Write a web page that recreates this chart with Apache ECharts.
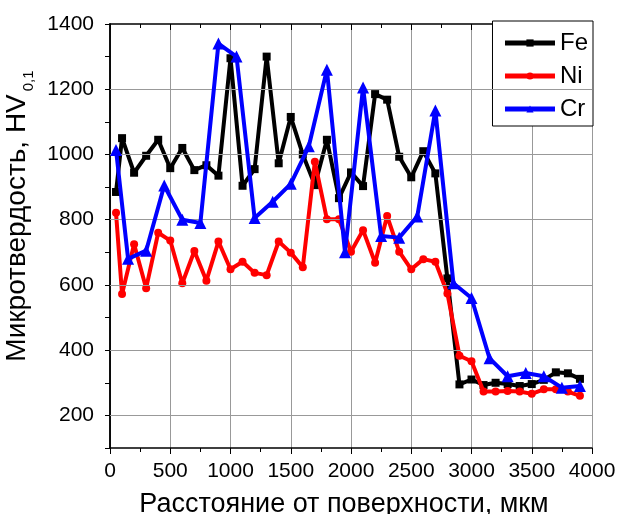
<!DOCTYPE html>
<html>
<head>
<meta charset="utf-8">
<script src="https://cdn.jsdelivr.net/npm/echarts@6/dist/echarts.min.js"></script>
<style>
  html, body { margin: 0; padding: 0; background: #fff; }
  #chart { width: 620px; height: 514px; }
</style>
</head>
<body>
<div id="chart"></div>
<script>
  // расстояние от поверхности, мкм
  var feX = [50, 100, 200, 300, 400, 500, 600, 700, 800, 900, 1000, 1100, 1200, 1300, 1400, 1500, 1600, 1700, 1800, 1900,
             2000, 2100, 2200, 2300, 2400, 2500, 2600, 2700, 2800, 2900, 3000, 3100, 3200, 3300, 3400, 3500, 3600, 3700, 3800, 3900];
  var feY = [885, 1050, 944, 996, 1045, 958, 1020, 952, 967, 935, 1295, 904, 955, 1300, 973, 1115, 1000, 906, 1045, 866,
             945, 903, 1185, 1168, 993, 930, 1010, 942, 620, 295, 310, 293, 300, 296, 290, 296, 309, 332, 329, 312];

  var niX = feX;
  var niY = [821, 572, 725, 590, 760, 736, 605, 704, 613, 733, 648, 671, 637, 630, 733, 699, 654, 978, 801, 801,
             702, 768, 668, 811, 702, 648, 679, 671, 574, 383, 366, 273, 273, 275, 273, 266, 280, 280, 273, 260];

  var crX = [50, 150, 300, 450, 600, 750, 900, 1050, 1200, 1350, 1500, 1650, 1800, 1950, 2100, 2250, 2400, 2550, 2700,
             2850, 3000, 3150, 3300, 3450, 3600, 3750, 3900];
  var crY = [1014, 680, 705, 905, 800, 790, 1340, 1300, 805, 855, 910, 1025, 1260, 700, 1205, 750, 745, 810, 1135,
             605, 560, 375, 320, 330, 320, 285, 290];

  var yTicks = [200, 400, 600, 800, 1000, 1200, 1400];

  function pairs(xs, ys) {
    var out = [];
    for (var i = 0; i < xs.length; i++) out.push([xs[i], ys[i]]);
    return out;
  }

  var chart = echarts.init(document.getElementById('chart'));
  var font = '"Liberation Sans", Arial, sans-serif';

  chart.setOption({
    animation: false,
    textStyle: { fontFamily: font },
    grid: { left: 110, right: 28, top: 24, bottom: 66, outerBoundsMode: 'none', containLabel: false },
    legend: {
      data: ['Fe', 'Ni', 'Cr'],
      orient: 'vertical',
      right: 27,
      top: 21,
      padding: [9, 5, 4, 10],
      itemGap: 7,
      itemWidth: 50,
      itemHeight: 9,
      borderColor: '#000',
      borderWidth: 1,
      borderRadius: 0,
      backgroundColor: '#fff',
      lineStyle: { width: 5 },
      textStyle: { fontSize: 24, color: '#000', fontFamily: font, lineHeight: 26 }
    },
    xAxis: [{
      type: 'value',
      min: 0, max: 4000, interval: 500,
      name: 'Расстояние от поверхности, мкм',
      nameLocation: 'middle',
      nameGap: 43,
      nameTextStyle: { fontSize: 27, color: '#000', fontFamily: font, padding: [0, 14, 0, 0] },
      axisLine: { lineStyle: { color: '#000', width: 1.5 } },
      axisTick: { inside: false, length: 6, lineStyle: { color: '#000' } },
      minorTick: { show: true, splitNumber: 2, length: 4, lineStyle: { color: '#000' } },
      axisLabel: { fontSize: 21, color: '#000', margin: 13, fontFamily: font,
        formatter: function (v) { return String(v); } },
      splitLine: { show: true, lineStyle: { color: '#999', width: 1 } }
    }, {
      type: 'value',
      position: 'top',
      min: 0, max: 4000, interval: 500,
      axisLine: { show: true, lineStyle: { color: '#000', width: 1.5 } },
      axisTick: { inside: true, length: 6, lineStyle: { color: '#000' } },
      minorTick: { show: true, splitNumber: 2, length: 4, lineStyle: { color: '#000' } },
      axisLabel: { show: false },
      splitLine: { show: false }
    }],
    yAxis: [{
      type: 'value',
      min: 100, max: 1400, interval: 100,
      name: '{a|Микротвердость, HV}{b|0,1}',
      nameLocation: 'middle',
      nameGap: 71,
      nameTextStyle: {
        padding: [0, 0, 0, 40],
        rich: {
          a: { fontSize: 28, color: '#000', fontFamily: font, lineHeight: 38, verticalAlign: 'middle' },
          b: { fontSize: 15, color: '#000', fontFamily: font, lineHeight: 15, verticalAlign: 'bottom', padding: [0, 0, 0, 3] }
        }
      },
      axisLine: { lineStyle: { color: '#000', width: 1.5 } },
      axisTick: { inside: false, length: 5, lineStyle: { color: '#000' } },
      axisLabel: {
        fontSize: 21, color: '#000', margin: 16, fontFamily: font,
        formatter: function (v) { return yTicks.indexOf(v) >= 0 ? String(v) : ''; }
      },
      splitLine: { show: false }
    }, {
      type: 'value',
      position: 'right',
      min: 100, max: 1400, interval: 100,
      axisLine: { show: true, lineStyle: { color: '#000', width: 1.5 } },
      axisTick: { inside: true, length: 5, lineStyle: { color: '#000' } },
      axisLabel: { show: false },
      splitLine: { show: false }
    }],
    series: [
      {
        // горизонтальные линии сетки через 200
        name: 'grid',
        type: 'line',
        data: [],
        z: 1,
        silent: true,
        markLine: {
          silent: true,
          symbol: 'none',
          label: { show: false },
          lineStyle: { color: '#999', width: 1, type: 'solid' },
          data: yTicks.slice(0, 6).map(function (v) { return { yAxis: v }; })
        }
      },
      {
        name: 'Fe', type: 'line', z: 3,
        data: pairs(feX, feY),
        color: '#000',
        lineStyle: { width: 4, color: '#000' },
        symbol: 'rect', symbolSize: 8,
        itemStyle: { color: '#000' }
      },
      {
        name: 'Ni', type: 'line', z: 4,
        data: pairs(niX, niY),
        color: '#ff0000',
        lineStyle: { width: 4, color: '#ff0000' },
        symbol: 'circle', symbolSize: 8,
        itemStyle: { color: '#ff0000' }
      },
      {
        name: 'Cr', type: 'line', z: 5,
        data: pairs(crX, crY),
        color: '#0000ff',
        lineStyle: { width: 4, color: '#0000ff' },
        symbol: 'triangle', symbolSize: 12,
        itemStyle: { color: '#0000ff' }
      }
    ]
  });
</script>
</body>
</html>
